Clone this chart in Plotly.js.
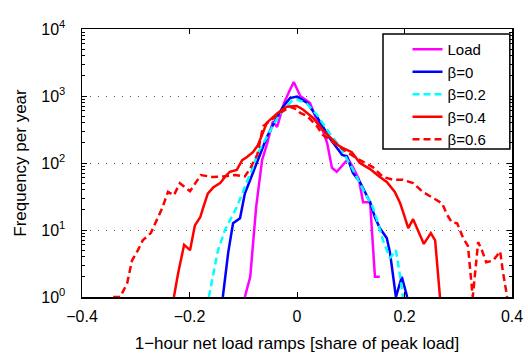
<!DOCTYPE html>
<html><head><meta charset="utf-8">
<script src="https://cdn.plot.ly/plotly-3.0.1.min.js"></script>
<style>html,body{margin:0;padding:0;background:#fff}</style>
</head><body>
<div id="chart" style="width:528px;height:356px"></div>
<script>
// Series data (x: 1-hour net load ramp, share of peak load; y: frequency per year)
const loadX = [-0.097,-0.087,-0.076,-0.065,-0.056,-0.045,-0.037,-0.024,-0.015,-0.006,0.006,0.015,0.024,0.035,0.045,0.056,0.065,0.074,0.086,0.095,0.104,0.115,0.123,0.136,0.145,0.154];
const loadY = [1,2,22,110,190,415,345,790,1150,1620,1000,890,790,480,355,200,85,74,95,115,87,58,26,26,2,2];

const b0X = [-0.138,-0.128,-0.119,-0.106,-0.097,-0.087,-0.074,-0.056,-0.037,-0.026,-0.013,0.000,0.019,0.037,0.061,0.084,0.093,0.104,0.117,0.136,0.145,0.154,0.167,0.173,0.184,0.195,0.205];
const b0Y = [1,4.6,12.6,15,35,56,100,245,490,690,930,980,790,490,234,132,126,71,52,26,15.5,10.7,7.6,4.6,1,2,1];

const b02X = [-0.164,-0.153,-0.147,-0.134,-0.121,-0.112,-0.102,-0.093,-0.082,-0.073,-0.056,-0.037,-0.022,-0.009,0.000,0.019,0.037,0.061,0.080,0.104,0.123,0.140,0.149,0.160,0.173,0.184,0.192,0.197];
const b02Y = [1,2.8,5,10,15.5,22,35,52,87,141,250,460,660,850,890,760,525,275,174,80,40,23,14,7,3.8,5,2,1];

const b04X = [-0.229,-0.221,-0.210,-0.199,-0.190,-0.180,-0.175,-0.166,-0.156,-0.143,-0.134,-0.125,-0.112,-0.102,-0.093,-0.082,-0.073,-0.065,-0.056,-0.037,-0.019,0.000,0.011,0.030,0.048,0.067,0.076,0.086,0.102,0.117,0.136,0.153,0.167,0.182,0.192,0.199,0.207,0.216,0.225,0.236,0.249,0.257,0.266];
const b04Y = [1,2.3,6,5,11.7,15.5,21,35,43,50,62,74,79,110,123,145,182,263,400,550,690,710,630,470,310,220,186,166,145,100,81,63,52,37,25,17,10.7,14.5,10,6.2,9,7,1];

const b06X = [-0.342,-0.329,-0.316,-0.307,-0.296,-0.287,-0.272,-0.260,-0.251,-0.240,-0.229,-0.218,-0.199,-0.179,-0.158,-0.138,-0.115,-0.097,-0.087,-0.074,-0.063,-0.045,-0.037,-0.013,0.000,0.006,0.019,0.037,0.048,0.067,0.093,0.117,0.141,0.160,0.179,0.197,0.216,0.234,0.253,0.270,0.279,0.288,0.298,0.309,0.318,0.327,0.337,0.344,0.352,0.365,0.378,0.383,0.391];
const b06Y = [1,1,1.6,3.5,5,7,9,15,21,37,33,50,38,66,62,63,66,63,83,132,355,457,525,690,630,560,500,355,263,204,145,110,87,62,56,56,50,37,30,25,17,13,12.6,7.6,5.8,1,6.6,5,3.3,3.5,4.8,2.4,1];

const seriesNames = ['Load','β=0','β=0.2','β=0.4','β=0.6'];
const xTicks = [-0.4,-0.2,0,0.2,0.4];
const yTicks = [1,10,100,1000,10000];
const yTickText = ['10<sup>0</sup>','10<sup>1</sup>','10<sup>2</sup>','10<sup>3</sup>','10<sup>4</sup>'];
const yMinor = [2,3,4,5,6,7,8,9,20,30,40,50,60,70,80,90,200,300,400,500,600,700,800,900,2000,3000,4000,5000,6000,7000,8000,9000];

const styles = [
  {color:'#ff00ff', dash:'solid'},
  {color:'#0000ff', dash:'solid'},
  {color:'#00ffff', dash:'7px,4px'},
  {color:'#ff0000', dash:'solid'},
  {color:'#ff0000', dash:'7px,4px'}
];
const xs = [loadX,b0X,b02X,b04X,b06X];
const ys = [loadY,b0Y,b02Y,b04Y,b06Y];

const traces = xs.map((x,i)=>({
  type:'scatter', mode:'lines', x:x, y:ys[i], name:seriesNames[i],
  line:{color:styles[i].color, width:2.5, dash:styles[i].dash}
}));

const FONT = 'Liberation Sans, Arial, Helvetica, sans-serif';
const layout = {
  width:528, height:356,
  margin:{l:82, r:16, t:29, b:59},
  paper_bgcolor:'#fff', plot_bgcolor:'#fff',
  font:{family:FONT, size:16, color:'#000'},
  showlegend:true,
  xaxis:{
    range:[-0.4,0.4], tickmode:'array', tickvals:xTicks,
    ticks:'inside', ticklen:5, tickwidth:1, tickcolor:'#000',
    showline:true, linecolor:'#000', linewidth:1.5, mirror:'ticks',
    showgrid:false, zeroline:false, ticklabelstandoff:4,
    title:{text:'1−hour net load ramps [share of peak load]', font:{size:17}, standoff:13}
  },
  yaxis:{
    type:'log', range:[0,4], tickmode:'array', tickvals:yTicks, ticktext:yTickText,
    ticks:'inside', ticklen:5, tickwidth:1, tickcolor:'#000',
    showline:true, linecolor:'#000', linewidth:1.5, mirror:'ticks',
    showgrid:true, gridcolor:'#555', gridwidth:1, griddash:'1px,7px',
    zeroline:false, ticklabelstandoff:12,
    minor:{tickmode:'array', tickvals:yMinor, ticks:'inside', ticklen:3, tickcolor:'#000', showgrid:false},
    title:{text:'Frequency per year', font:{size:17}, standoff:10}
  },
  legend:{
    x:0.757, xanchor:'left', y:0.985, yanchor:'top',
    bgcolor:'rgba(0,0,0,0)', borderwidth:0,
    font:{family:FONT, size:15, color:'#000'}, tracegroupgap:0
  },
  shapes:[{
    type:'rect', xref:'paper', yref:'paper', x0:0.700, x1:0.995, y0:0.552, y1:0.981,
    fillcolor:'#fff', line:{color:'#000', width:1.5}, layer:'above'
  }]
};
Plotly.newPlot('chart', traces, layout, {staticPlot:true, displayModeBar:false});
</script>
</body></html>
